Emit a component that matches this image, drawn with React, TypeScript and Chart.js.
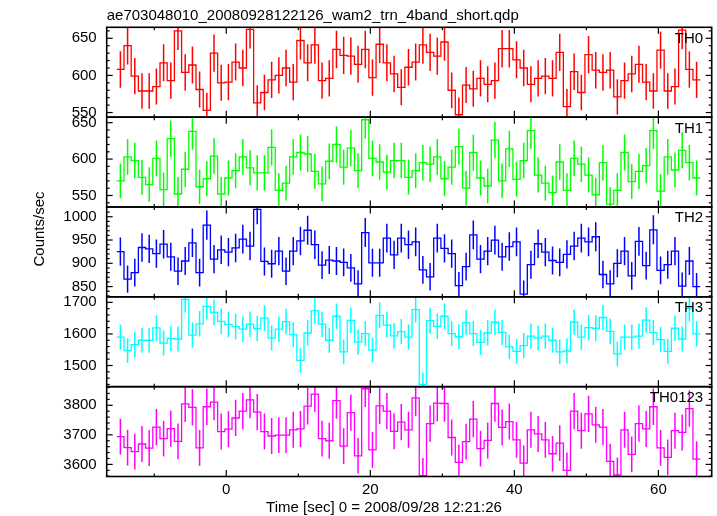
import React, { useEffect, useRef } from 'react';
import { Chart, registerables } from 'chart.js';

Chart.register(...registerables);

// ---------------- data ----------------
const TITLE = 'ae703048010_20080928122126_wam2_trn_4band_short.qdp';
const X_LABEL = 'Time [sec] 0 = 2008/09/28 12:21:26';
const Y_LABEL = 'Counts/sec';

// bin width in seconds (1-s light-curve bins)
const BIN_WIDTH = 1;

// bin centres [sec]
const timeCentres = [
  -14.7, -13.7, -12.7, -11.7, -10.7, -9.7, -8.7, -7.7, -6.7, -5.7,
  -4.7, -3.7, -2.7, -1.7, -0.7, 0.3, 1.3, 2.3, 3.3, 4.3,
  5.3, 6.3, 7.3, 8.3, 9.3, 10.3, 11.3, 12.3, 13.3, 14.3,
  15.3, 16.3, 17.3, 18.3, 19.3, 20.3, 21.3, 22.3, 23.3, 24.3,
  25.3, 26.3, 27.3, 28.3, 29.3, 30.3, 31.3, 32.3, 33.3, 34.3,
  35.3, 36.3, 37.3, 38.3, 39.3, 40.3, 41.3, 42.3, 43.3, 44.3,
  45.3, 46.3, 47.3, 48.3, 49.3, 50.3, 51.3, 52.3, 53.3, 54.3,
  55.3, 56.3, 57.3, 58.3, 59.3, 60.3, 61.3, 62.3, 63.3, 64.3,
  65.3,
];

const th0 = [
  608, 640, 599, 579, 579, 585, 617, 593, 660, 604,
  614, 581, 553, 630, 590, 591, 618, 610, 662, 563,
  577, 594, 600, 610, 591, 647, 617, 641, 593, 596,
  635, 627, 626, 615, 635, 597, 642, 617, 602, 584,
  611, 618, 641, 631, 626, 645, 580, 547, 587, 582,
  596, 588, 593, 636, 636, 621, 610, 588, 596, 599,
  596, 631, 558, 605, 577, 628, 607, 604, 607, 571,
  593, 602, 615, 591, 579, 634, 579, 585, 661, 608,
  594,
];

const th1 = [
  570, 603, 598, 575, 565, 601, 558, 628, 552, 586,
  638, 562, 573, 604, 552, 574, 584, 603, 588, 581,
  581, 616, 557, 567, 603, 609, 607, 583, 566, 597,
  620, 589, 615, 584, 654, 601, 596, 582, 598, 598,
  575, 584, 595, 593, 603, 573, 589, 617, 560, 609,
  574, 563, 626, 570, 614, 572, 598, 639, 578, 567,
  554, 596, 557, 601, 593, 578, 551, 595, 538, 557,
  609, 569, 583, 591, 639, 556, 603, 585, 612, 595,
  574,
];

const th2 = [
  925, 866, 880, 934, 931, 921, 941, 914, 883, 905,
  944, 880, 982, 909, 929, 924, 933, 952, 937, 1016,
  904, 899, 926, 883, 926, 948, 971, 940, 896, 907,
  905, 902, 890, 856, 966, 901, 901, 954, 918, 954,
  940, 946, 886, 871, 954, 932, 921, 852, 893, 961,
  909, 926, 950, 914, 936, 946, 834, 897, 942, 924,
  906, 902, 919, 937, 954, 946, 957, 876, 856, 900,
  926, 873, 947, 895, 972, 885, 897, 926, 851, 905,
  850,
];

const th3 = [
  1590, 1547, 1566, 1580, 1580, 1619, 1571, 1586, 1584, 1709,
  1596, 1632, 1687, 1668, 1640, 1630, 1623, 1615, 1631, 1617,
  1650, 1587, 1615, 1639, 1598, 1516, 1603, 1674, 1631, 1580,
  1656, 1543, 1643, 1574, 1601, 1549, 1659, 1628, 1594, 1607,
  1590, 1677, 1440, 1642, 1624, 1656, 1601, 1591, 1636, 1601,
  1573, 1603, 1637, 1605, 1559, 1545, 1563, 1593, 1587, 1593,
  1580, 1543, 1546, 1637, 1590, 1620, 1618, 1652, 1608, 1537,
  1590, 1590, 1593, 1644, 1604, 1582, 1545, 1618, 1584, 1680,
  1600,
];

const th0123 = [
  3694, 3657, 3643, 3669, 3655, 3726, 3687, 3721, 3678, 3805,
  3793, 3656, 3795, 3811, 3711, 3719, 3757, 3780, 3818, 3777,
  3711, 3696, 3699, 3699, 3717, 3720, 3797, 3838, 3687, 3680,
  3816, 3662, 3775, 3629, 3856, 3649, 3798, 3780, 3712, 3743,
  3717, 3825, 3562, 3738, 3807, 3806, 3691, 3607, 3677, 3753,
  3653, 3681, 3806, 3725, 3745, 3683, 3604, 3717, 3703, 3683,
  3636, 3672, 3580, 3780, 3714, 3771, 3734, 3726, 3610, 3564,
  3717, 3634, 3738, 3720, 3795, 3656, 3624, 3714, 3708, 3789,
  3618,
];

const panelNames = ['TH0', 'TH1', 'TH2', 'TH3', 'TH0123'];
const panelSeries = [th0, th1, th2, th3, th0123];
const panelColors = ['#ff0000', '#00ff00', '#0000ff', '#00ffff', '#ff00ff'];
const panelMin = [543.8, 534.2, 828, 1433, 3559];
const panelMax = [664.8, 657.6, 1021, 1717.5, 3863];
const panelTicks = [
  [550, 600, 650],
  [550, 600, 650],
  [850, 900, 950, 1000],
  [1500, 1600, 1700],
  [3600, 3700, 3800],
];
const panelMajor = [50, 50, 50, 100, 100];
const panelMinor = [10, 10, 10, 20, 20];

const X_MIN = -16.6;
const X_MAX = 67.4;
const xTicks = [0, 20, 40, 60];
const X_MAJOR = 20;
const X_MINOR = 10;

// Poisson 1-sigma error of a rate measured in a BIN_WIDTH-second bin
const poissonError = (rate: number) => Math.sqrt(rate * BIN_WIDTH) / BIN_WIDTH;

const FONT = "'Liberation Sans', Arial, Helvetica, sans-serif";

// ---------------- frame / ticks / text plugin ----------------
const qdpFrame = {
  id: 'qdpFrame',
  afterDraw(chart: any) {
    const ctx: CanvasRenderingContext2D = chart.ctx;
    const { left, right } = chart.chartArea;
    const xs = chart.scales.x;
    ctx.save();
    ctx.strokeStyle = '#000';
    const seg = (x1: number, y1: number, x2: number, y2: number) => {
      ctx.beginPath();
      ctx.moveTo(x1, y1);
      ctx.lineTo(x2, y2);
      ctx.stroke();
    };
    panelNames.forEach((name, k) => {
      const ys = chart.scales['y' + k];
      const top = ys.top;
      const bottom = ys.bottom;
      ctx.lineWidth = 1.6;
      ctx.strokeRect(left, top, right - left, bottom - top);
      ctx.lineWidth = 1.2;
      // y ticks (inward, both sides)
      const minor = panelMinor[k];
      const major = panelMajor[k];
      for (let v = Math.ceil(ys.min / minor) * minor; v <= ys.max; v += minor) {
        const py = ys.getPixelForValue(v);
        const isMajor = Math.abs(v / major - Math.round(v / major)) < 1e-6;
        const len = isMajor ? 6 : 3;
        seg(left, py, left + len, py);
        seg(right, py, right - len, py);
      }
      // x ticks (inward, top and bottom of every panel)
      for (let t = Math.ceil(xs.min / X_MINOR) * X_MINOR; t <= xs.max; t += X_MINOR) {
        const px = xs.getPixelForValue(t);
        const isMajor = Math.abs(t / X_MAJOR - Math.round(t / X_MAJOR)) < 1e-6;
        const len = isMajor ? 6.5 : 3;
        seg(px, top, px, top + len);
        seg(px, bottom, px, bottom - len);
      }
      // panel label
      ctx.fillStyle = '#000';
      ctx.font = `15px ${FONT}`;
      ctx.textAlign = 'right';
      ctx.textBaseline = 'alphabetic';
      ctx.fillText(name, right - 8.5, top + 15.5);
    });
    // title
    ctx.fillStyle = '#000';
    ctx.font = `15px ${FONT}`;
    ctx.textAlign = 'left';
    ctx.textBaseline = 'alphabetic';
    ctx.fillText(TITLE, left, 20);
    // x label
    ctx.textAlign = 'center';
    ctx.textBaseline = 'middle';
    ctx.fillText(X_LABEL, 384, 508);
    // y label
    ctx.translate(40, 229);
    ctx.rotate(-Math.PI / 2);
    ctx.fillText(Y_LABEL, 0, 0);
    ctx.restore();
  },
};

export default function App() {
  const ref = useRef<HTMLCanvasElement>(null);

  useEffect(() => {
    const canvas = ref.current;
    if (!canvas) return;

    const datasets: any[] = [];
    panelSeries.forEach((vals, k) => {
      const steps: { x: number; y: number }[] = [];
      vals.forEach((v, i) => {
        steps.push({ x: timeCentres[i] - BIN_WIDTH / 2, y: v });
        steps.push({ x: timeCentres[i] + BIN_WIDTH / 2, y: v });
      });
      datasets.push({
        type: 'bar',
        label: panelNames[k] + ' err',
        data: vals.map((v, i) => ({
          x: timeCentres[i],
          y: [v - poissonError(v), v + poissonError(v)],
        })),
        backgroundColor: panelColors[k],
        borderWidth: 0,
        maxBarThickness: 1.5,
        grouped: false,
        xAxisID: 'x',
        yAxisID: 'y' + k,
        clip: 0,
        order: 2,
      });
      datasets.push({
        type: 'line',
        label: panelNames[k],
        data: steps,
        borderColor: panelColors[k],
        borderWidth: 1.3,
        pointRadius: 0,
        fill: false,
        tension: 0,
        xAxisID: 'x',
        yAxisID: 'y' + k,
        clip: 0,
        order: 1,
      });
    });

    const scales: any = {
      x: {
        type: 'linear',
        position: 'bottom',
        offset: false,
        min: X_MIN,
        max: X_MAX,
        grid: { display: false, drawTicks: false, offset: false },
        border: { display: false },
        ticks: {
          autoSkip: false,
          maxRotation: 0,
          minRotation: 0,
          padding: 4,
          color: '#000',
          font: { family: FONT, size: 15 },
          callback: (v: any) => String(v),
        },
        afterBuildTicks: (s: any) => {
          s.ticks = xTicks.map((value) => ({ value }));
        },
        afterFit: (s: any) => {
          s.height = 39.5;
          s.paddingLeft = 0;
          s.paddingRight = 0;
        },
      },
    };
    panelNames.forEach((_, k) => {
      scales['y' + k] = {
        type: 'linear',
        position: 'left',
        stack: 'panels',
        stackWeight: 1,
        weight: panelNames.length - k,
        offset: false,
        min: panelMin[k],
        max: panelMax[k],
        grid: { display: false, drawTicks: false },
        border: { display: false },
        ticks: {
          autoSkip: false,
          padding: 10,
          color: '#000',
          font: { family: FONT, size: 15 },
          callback: (v: any) => String(v),
        },
        afterBuildTicks: (s: any) => {
          s.ticks = panelTicks[k].map((value) => ({ value }));
        },
        afterFit: (s: any) => {
          s.width = 106.7;
        },
      };
    });

    const chart = new Chart(canvas, {
      type: 'line',
      data: { datasets },
      options: {
        animation: false,
        responsive: false,
        maintainAspectRatio: false,
        devicePixelRatio: 1,
        events: [],
        layout: { padding: { top: 27.3, right: 5.3, left: 0, bottom: 0 } },
        plugins: {
          legend: { display: false },
          tooltip: { enabled: false },
          title: { display: false },
        },
        scales,
      },
      plugins: [qdpFrame],
    } as any);

    return () => chart.destroy();
  }, []);

  return (
    <div style={{ position: 'fixed', left: 0, top: 0, width: 717, height: 516, background: '#fff' }}>
      <canvas ref={ref} width={717} height={516} style={{ display: 'block', width: 717, height: 516 }} />
    </div>
  );
}
